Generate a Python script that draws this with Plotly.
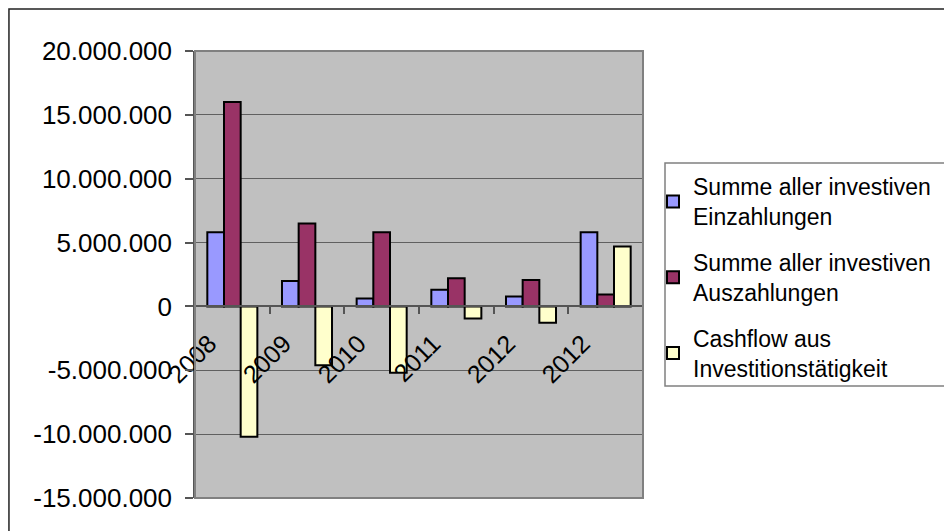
import plotly.graph_objects as go

years = ["2008", "2009", "2010", "2011", "2012", "2012"]
einzahlungen = [5800000, 2000000, 630000, 1300000, 780000, 5800000]
auszahlungen = [16000000, 6500000, 5800000, 2200000, 2070000, 940000]
cashflow = [-10200000, -4600000, -5200000, -940000, -1280000, 4700000]

series_names = [
    "Summe aller investiven<br>Einzahlungen",
    "Summe aller investiven<br>Auszahlungen",
    "Cashflow aus<br>Investitionstätigkeit",
]
series_colors = ["#9999FF", "#993366", "#FFFFCC"]

y_ticks = [-15000000, -10000000, -5000000, 0, 5000000, 10000000, 15000000, 20000000]
y_ticktext = [f"{v:,}".replace(",", ".") for v in y_ticks]

W, H = 952, 531
# the page body adds an 8px offset, so layout pixels are shifted by 8
xdom = [187 / W, 635 / W]
ydom = [1 - 490 / H, 1 - 43 / H]
ymin, ymax = y_ticks[0], y_ticks[-1]
zero_pos = ydom[0] + (0 - ymin) / (ymax - ymin) * (ydom[1] - ydom[0])

idx = list(range(len(years)))
font = "Liberation Sans, Arial, sans-serif"

fig = go.Figure()
for i, (name, vals, col) in enumerate(zip(series_names, [einzahlungen, auszahlungen, cashflow], series_colors)):
    fig.add_trace(go.Bar(
        x=idx, y=vals, name=name, legendgroup=f"g{i}",
        marker=dict(color=col, line=dict(color="black", width=2)),
    ))

fig.update_layout(
    width=W, height=H,
    margin=dict(l=0, r=0, t=0, b=0, autoexpand=False),
    paper_bgcolor="white",
    plot_bgcolor="#C0C0C0",
    barmode="group",
    bargap=0.33,
    bargroupgap=0,
    font=dict(family=font, size=25, color="black"),
    xaxis=dict(
        domain=xdom, range=[-0.5, len(years) - 0.5],
        anchor="free", position=zero_pos,
        tickmode="array", tickvals=idx, ticktext=years,
        tickangle=-45, ticks="", showgrid=False, zeroline=False,
        showline=True, linecolor="#555555", linewidth=1.5,
        ticklabelshift=-23, ticklabelstandoff=12,
        minor=dict(tickvals=[i - 0.5 for i in range(len(years) + 1)],
                   ticks="outside", ticklen=7, tickcolor="#555555", tickwidth=1.5),
        tickfont=dict(size=25),
    ),
    yaxis=dict(
        domain=ydom, range=[ymin, ymax],
        tickmode="array", tickvals=y_ticks, ticktext=y_ticktext,
        ticks="outside", ticklen=8, tickcolor="#555555", tickwidth=1.5,
        ticklabelstandoff=8,
        showgrid=True, gridcolor="#606060", gridwidth=1,
        zeroline=False,
        showline=True, linecolor="#555555", linewidth=1.5,
        tickfont=dict(size=26),
    ),
    legend=dict(
        x=645 / W, y=1 - 157 / H, xanchor="left", yanchor="top",
        bgcolor="rgba(0,0,0,0)", borderwidth=0,
        font=dict(size=23), tracegroupgap=13,
    ),
    showlegend=True,
)

# plot area border
fig.add_shape(type="rect", xref="x domain", yref="y domain", x0=0, x1=1, y0=0, y1=1,
              line=dict(color="#808080", width=2), layer="above")
# legend frame
fig.add_shape(type="rect", xref="paper", yref="paper",
              x0=657 / W, x1=1.05, y0=1 - 378 / H, y1=1 - 155 / H,
              fillcolor="white", line=dict(color="#808080", width=1.5), layer="above")
# chart frame
fig.add_shape(type="rect", xref="paper", yref="paper", x0=0.001, x1=1.05, y0=-0.05, y1=0.998,
              line=dict(color="#222222", width=1.5), layer="below")

fig.write_html("out.html")
